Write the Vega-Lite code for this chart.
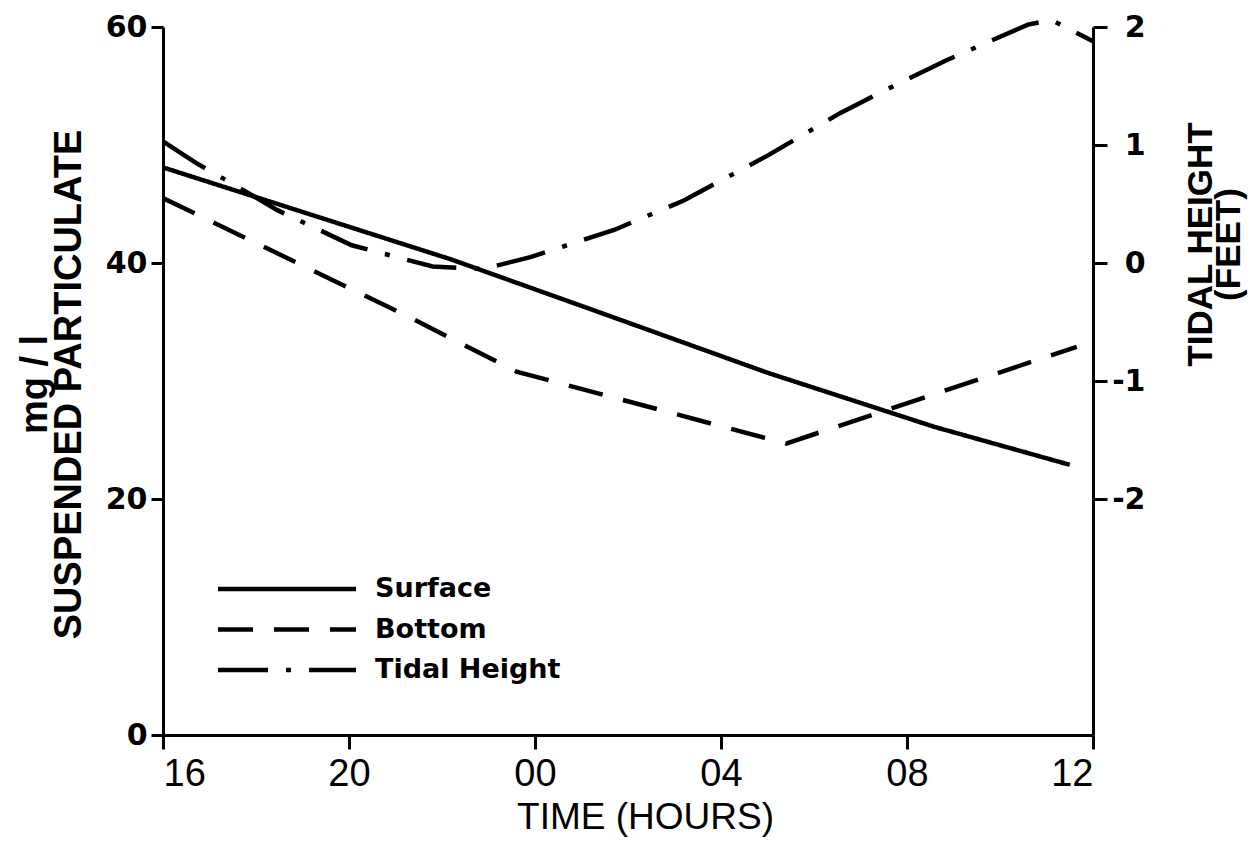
{
  "$schema": "https://vega.github.io/schema/vega-lite/v6.json",
  "width": 930,
  "height": 708,
  "autosize": {"type": "none"},
  "padding": {"left": 163, "top": 27, "right": 159, "bottom": 110},
  "background": "white",
  "config": {
    "view": {"stroke": null},
    "axis": {
      "grid": false,
      "domainColor": "black",
      "domainWidth": 3,
      "tickColor": "black",
      "tickWidth": 3,
      "labelColor": "black",
      "titleColor": "black"
    }
  },
  "data": {
    "values": [
      {"series": "Surface", "hour": 16, "value": 48.1},
      {"series": "Surface", "hour": 22.2, "value": 40.3},
      {"series": "Surface", "hour": 25.4, "value": 35.8},
      {"series": "Surface", "hour": 29.0, "value": 30.7},
      {"series": "Surface", "hour": 32.6, "value": 26.1},
      {"series": "Surface", "hour": 35.5, "value": 22.9},
      {"series": "Bottom", "hour": 16, "value": 45.5},
      {"series": "Bottom", "hour": 21.2, "value": 35.6},
      {"series": "Bottom", "hour": 23.6, "value": 30.8},
      {"series": "Bottom", "hour": 29.4, "value": 24.7},
      {"series": "Bottom", "hour": 35.65, "value": 32.9},
      {"series": "Tidal Height", "hour": 16, "value": 1.03},
      {"series": "Tidal Height", "hour": 16.7, "value": 0.85},
      {"series": "Tidal Height", "hour": 17.5, "value": 0.67},
      {"series": "Tidal Height", "hour": 18.45, "value": 0.45},
      {"series": "Tidal Height", "hour": 20.06, "value": 0.15},
      {"series": "Tidal Height", "hour": 21.8, "value": -0.03},
      {"series": "Tidal Height", "hour": 22.9, "value": -0.05},
      {"series": "Tidal Height", "hour": 23.9, "value": 0.05},
      {"series": "Tidal Height", "hour": 25.7, "value": 0.28},
      {"series": "Tidal Height", "hour": 27.2, "value": 0.53},
      {"series": "Tidal Height", "hour": 29.0, "value": 0.91},
      {"series": "Tidal Height", "hour": 30.56, "value": 1.27},
      {"series": "Tidal Height", "hour": 31.4, "value": 1.44},
      {"series": "Tidal Height", "hour": 32.86, "value": 1.72},
      {"series": "Tidal Height", "hour": 34.6, "value": 2.02},
      {"series": "Tidal Height", "hour": 35.1, "value": 2.06},
      {"series": "Tidal Height", "hour": 36, "value": 1.88}
    ]
  },
  "encoding": {
    "x": {
      "field": "hour",
      "type": "quantitative",
      "scale": {"domain": [16, 36], "nice": false, "zero": false},
      "axis": {
        "values": [16, 20, 24, 28, 32, 36],
        "labelExpr": "(datum.value % 24) < 10 ? '0' + (datum.value % 24) : '' + (datum.value % 24)",
        "title": "TIME (HOURS)",
        "titleFont": "Liberation Sans",
        "titleFontSize": 37,
        "titleFontWeight": "normal",
        "titlePadding": 6,
        "titleX": 482,
        "titleAlign": "center",
        "labelFont": "Liberation Sans",
        "labelFontSize": 38,
        "labelPadding": 6,
        "tickSize": 14
      }
    }
  },
  "layer": [
    {
      "transform": [{"filter": "datum.series != 'Tidal Height'"}],
      "mark": {"type": "line", "color": "black", "strokeWidth": 4.5},
      "encoding": {
        "y": {
          "field": "value",
          "type": "quantitative",
          "scale": {"domain": [0, 60], "nice": false},
          "axis": {
            "orient": "left",
            "values": [0, 20, 40, 60],
            "title": ["mg / l", "SUSPENDED PARTICULATE"],
            "titleFont": "Liberation Sans",
            "titleFontSize": 38,
            "titleFontWeight": "bold",
            "titleAngle": -90,
            "titleX": -128,
            "titleY": 357,
            "titleAlign": "center",
            "titleBaseline": "middle",
            "titleLineHeight": 34,
            "labelFont": "DejaVu Sans",
            "labelFontSize": 30,
            "labelFontWeight": "bold",
            "labelPadding": 4,
            "tickSize": 12
          }
        },
        "strokeDash": {
          "field": "series",
          "type": "nominal",
          "scale": {
            "domain": ["Surface", "Bottom", "Tidal Height"],
            "range": [[1, 0], [35, 21], [50, 18, 5, 18]]
          },
          "legend": {
            "title": null,
            "orient": "none",
            "legendX": 110,
            "legendY": 548,
            "direction": "vertical",
            "symbolType": "M-6,0H6",
            "symbolSize": 529,
            "symbolStrokeWidth": 4.5,
            "symbolStrokeColor": "black",
            "symbolFillColor": "transparent",
            "labelFont": "DejaVu Sans",
            "labelFontSize": 27,
            "labelFontWeight": "bold",
            "labelColor": "black",
            "labelOffset": 74,
            "labelLimit": 400,
            "rowPadding": 13.5,
            "padding": 0
          }
        }
      }
    },
    {
      "transform": [{"filter": "datum.series == 'Tidal Height'"}],
      "mark": {"type": "line", "color": "black", "strokeWidth": 4.5},
      "encoding": {
        "y": {
          "field": "value",
          "type": "quantitative",
          "scale": {"domain": [-4, 2], "nice": false, "zero": false},
          "axis": {
            "orient": "right",
            "values": [-2, -1, 0, 1, 2],
            "labelExpr": "datum.value < 0 ? '-' + abs(datum.value) : '' + datum.value",
            "title": ["TIDAL HEIGHT", "(FEET)"],
            "titleFont": "Liberation Sans",
            "titleFontSize": 35,
            "titleFontWeight": "bold",
            "titleAngle": -90,
            "titleX": 107,
            "titleY": 217,
            "titleAlign": "center",
            "titleBaseline": "middle",
            "titleLineHeight": 28,
            "labelFont": "DejaVu Sans",
            "labelFontSize": 30,
            "labelFontWeight": "bold",
            "labelAlign": "right",
            "labelPadding": 38,
            "tickSize": 14
          }
        },
        "strokeDash": {"field": "series", "type": "nominal"}
      }
    }
  ],
  "resolve": {"scale": {"y": "independent"}}
}
